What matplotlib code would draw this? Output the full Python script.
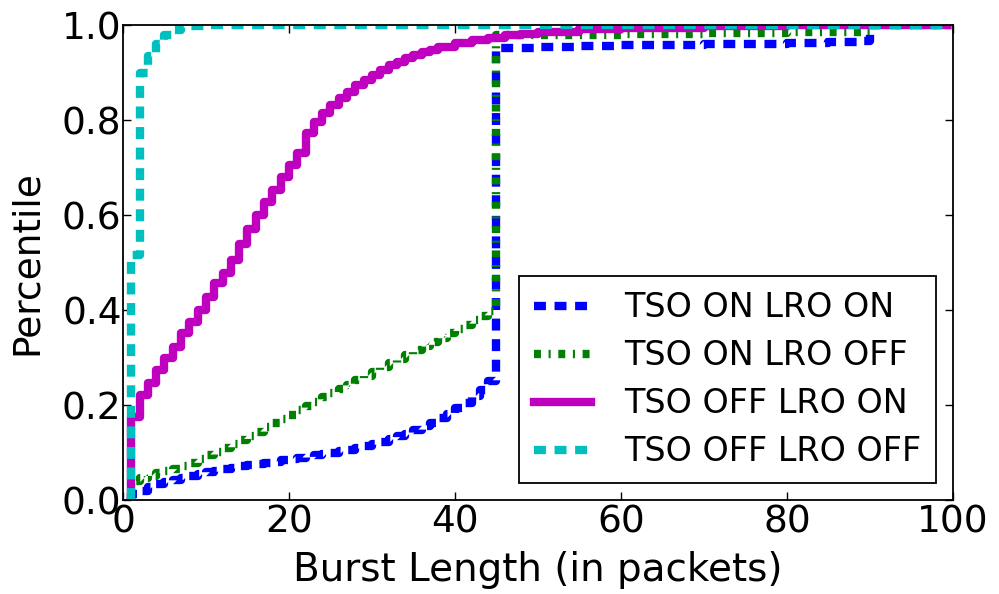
import matplotlib
matplotlib.use("Agg")
import matplotlib.pyplot as plt

plt.rcParams['font.family'] = ['DejaVu Sans']
plt.rcParams['lines.scale_dashes'] = False

# Burst length (packets) and CDF values
x_on_on = [1, 1, 2, 3, 4, 5, 6, 7, 8, 9, 10, 11, 12, 13, 14, 15, 16, 17, 18, 19, 20,
           21, 22, 23, 24, 25, 26, 27, 28, 29, 30, 31, 32, 33, 34, 35, 36, 37, 38, 39, 40,
           41, 42, 43, 44, 45, 50, 55, 60, 65, 70, 75, 80, 85, 89, 90, 100]
y_on_on = [0.0, 0.012, 0.020, 0.027, 0.033, 0.038, 0.043, 0.047, 0.051, 0.055, 0.058,
           0.062, 0.065, 0.068, 0.071, 0.073, 0.076, 0.079, 0.081, 0.084, 0.086,
           0.089, 0.091, 0.094, 0.097, 0.100, 0.103, 0.106, 0.110, 0.114, 0.118,
           0.123, 0.128, 0.134, 0.140, 0.147, 0.155, 0.163, 0.172, 0.182, 0.193,
           0.205, 0.218, 0.232, 0.250, 0.952, 0.954, 0.955, 0.957, 0.958, 0.960,
           0.961, 0.962, 0.964, 0.966, 1.0, 1.0]

x_on_off = [1, 1, 2, 3, 4, 5, 6, 7, 8, 9, 10, 11, 12, 13, 14, 15, 16, 17, 18, 19, 20,
            21, 22, 23, 24, 25, 26, 27, 28, 29, 30, 31, 32, 33, 34, 35, 36, 37, 38, 39, 40,
            41, 42, 43, 44, 45, 50, 55, 60, 65, 70, 75, 80, 85, 89, 90, 100]
y_on_off = [0.0, 0.040, 0.046, 0.051, 0.056, 0.061, 0.066, 0.072, 0.078, 0.086, 0.094,
            0.102, 0.110, 0.118, 0.126, 0.135, 0.144, 0.153, 0.162, 0.171, 0.180,
            0.189, 0.198, 0.207, 0.216, 0.225, 0.234, 0.243, 0.252, 0.261, 0.270,
            0.279, 0.288, 0.297, 0.306, 0.315, 0.324, 0.333, 0.342, 0.351, 0.360,
            0.369, 0.378, 0.387, 0.397, 0.978, 0.979, 0.980, 0.981, 0.982, 0.983,
            0.984, 0.985, 0.986, 0.988, 1.0, 1.0]

x_off_on = [1, 1, 2, 3, 4, 5, 6, 7, 8, 9, 10, 11, 12, 13, 14, 15, 16, 17, 18, 19, 20,
            21, 22, 23, 24, 25, 26, 27, 28, 29, 30, 31, 32, 33, 34, 35, 36, 37, 38,
            40, 42, 44, 46, 48, 50, 55, 60, 70, 80, 100]
y_off_on = [0.0, 0.175, 0.221, 0.246, 0.274, 0.299, 0.322, 0.351, 0.375, 0.400, 0.428,
            0.457, 0.478, 0.505, 0.540, 0.570, 0.600, 0.627, 0.653, 0.680, 0.705,
            0.730, 0.773, 0.796, 0.815, 0.832, 0.846, 0.860, 0.873, 0.884, 0.895,
            0.905, 0.916, 0.922, 0.930, 0.937, 0.943, 0.947, 0.953,
            0.962, 0.968, 0.973, 0.978, 0.982, 0.986, 0.991, 0.994, 0.998, 0.999, 1.0]

x_off_off = [1, 1, 2, 3, 4, 5, 6, 7, 8, 10, 15, 100]
y_off_off = [0.0, 0.516, 0.900, 0.935, 0.960, 0.978, 0.990, 0.995, 0.997, 0.999, 1.0, 1.0]

labels = ['TSO ON LRO ON', 'TSO ON LRO OFF', 'TSO OFF LRO ON', 'TSO OFF LRO OFF']
xticks = [0, 20, 40, 60, 80, 100]
yticks = [0.0, 0.2, 0.4, 0.6, 0.8, 1.0]

fig = plt.figure(figsize=(9.99, 5.94), dpi=100)
ax = fig.add_axes([0.1231, 0.1582, 0.8308, 0.7997])

lw = 6
ax.plot(x_on_on, y_on_on, color='b', lw=lw, ls=(0, (8.6, 6.2)),
        drawstyle='steps-post', label=labels[0])
ax.plot(x_on_off, y_on_off, color='g', lw=lw, ls=(0, (5.0, 5.5, 1.5, 5.5)),
        drawstyle='steps-post', label=labels[1])
ax.plot(x_off_on, y_off_on, color='m', lw=lw, ls='-',
        drawstyle='steps-post', label=labels[2])
ax.plot(x_off_off, y_off_off, color='c', lw=lw, ls=(0, (8.6, 6.2)),
        drawstyle='steps-post', label=labels[3])

ax.set_xlim(0, 100)
ax.set_ylim(0, 1.0)
ax.set_xticks(xticks)
ax.set_yticks(yticks)
ax.set_yticklabels(['%.1f' % v for v in yticks])
ax.tick_params(direction='in', length=6, width=1, top=True, right=True,
               labelsize=27)
ax.tick_params(axis='x', pad=3)
ax.tick_params(axis='y', pad=1)
for s in ax.spines.values():
    s.set_linewidth(1.3)

ax.set_xlabel('Burst Length (in packets)', fontsize=28, labelpad=8)
ax.set_ylabel('Percentile', fontsize=27, labelpad=12)

leg = ax.legend(loc='lower right', fontsize=24, handlelength=1.7,
                labelspacing=0.45, borderpad=0.45, handletextpad=1.0,
                fancybox=False, framealpha=1.0, borderaxespad=0.5)
leg.get_frame().set_edgecolor('black')
leg.get_frame().set_linewidth(1.3)

fig.savefig('out.png', dpi=100)
